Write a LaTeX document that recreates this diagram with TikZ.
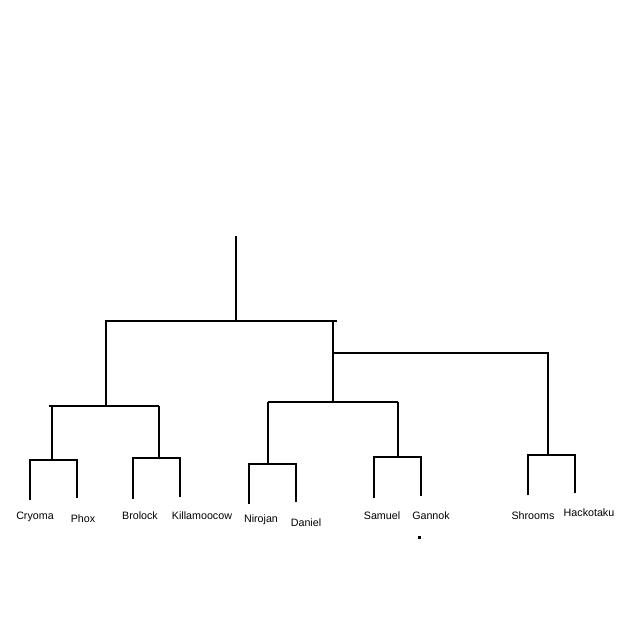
\documentclass[tikz,border=0pt]{standalone}
\usepackage{fontspec}
\setmainfont{Liberation Sans}
\begin{document}
\begin{tikzpicture}[x=1pt,y=-1pt,
  edge/.style={line width=2.7pt, line join=miter, black},
  lab/.style={anchor=base, inner sep=0pt, font=\fontsize{10.7}{12}\selectfont}]
\useasboundingbox (0,0) rectangle (640,634);
\fill[white] (0,0) rectangle (640,634);
% coordinates
\coordinate (rootTop) at (236,236);
\coordinate (rootJ) at (236,321);
\coordinate (topL) at (106,321);
\coordinate (topR) at (337,321);
\coordinate (rJ) at (333,321);
\coordinate (rMid) at (333,353);
\coordinate (rBot) at (333,402);
\coordinate (lBot) at (106,406);
\coordinate (lBarL) at (49,406);
\coordinate (lBarR) at (159,406);
\coordinate (aTop) at (52,406);
\coordinate (aJ) at (52,460);
\coordinate (bTop) at (159,406);
\coordinate (bJ) at (159,458);
\coordinate (mBarL) at (268,402);
\coordinate (mBarR) at (398,402);
\coordinate (cJ) at (268,464);
\coordinate (dJ) at (398,457);
\coordinate (sBarR) at (548,353);
\coordinate (eJ) at (548,455);
% leaf pairs
\coordinate (c1t) at (30,460);  \coordinate (c1b) at (30,500);
\coordinate (c2t) at (77,460);  \coordinate (c2b) at (77,498);
\coordinate (b1t) at (133,458); \coordinate (b1b) at (133,499);
\coordinate (b2t) at (180,458); \coordinate (b2b) at (180,497);
\coordinate (n1t) at (249,464); \coordinate (n1b) at (249,504);
\coordinate (n2t) at (296,464); \coordinate (n2b) at (296,502);
\coordinate (s1t) at (374,457); \coordinate (s1b) at (374,498);
\coordinate (s2t) at (421,457); \coordinate (s2b) at (421,496);
\coordinate (h1t) at (528,455); \coordinate (h1b) at (528,495);
\coordinate (h2t) at (575,455); \coordinate (h2b) at (575,493);
% edges
\draw[edge] (rootTop) -- (rootJ);
\draw[edge] (lBot) -- (topL) -- (topR);
\draw[edge] (rJ) -- (rBot);
\draw[edge] (lBarL) -- (lBarR);
\draw[edge] (aTop) -- (aJ);
\draw[edge] (bTop) -- (bJ);
\draw[edge] (c1b) -- (c1t) -- (c2t) -- (c2b);
\draw[edge] (b1b) -- (b1t) -- (b2t) -- (b2b);
\draw[edge] (mBarL) -- (mBarR);
\draw[edge] (mBarL) -- (cJ);
\draw[edge] (mBarR) -- (dJ);
\draw[edge] (n1b) -- (n1t) -- (n2t) -- (n2b);
\draw[edge] (s1b) -- (s1t) -- (s2t) -- (s2b);
\draw[edge] (rMid) -- (sBarR) -- (eJ);
\draw[edge] (h1b) -- (h1t) -- (h2t) -- (h2b);
% labels
\node[lab] (lCryoma) at (35,519) {Cryoma};
\node[lab] (lPhox) at (83,522) {Phox};
\node[lab] (lBrolock) at (140,519) {Brolock};
\node[lab] (lKilla) at (202,519) {Killamoocow};
\node[lab] (lNirojan) at (261,522) {Nirojan};
\node[lab] (lDaniel) at (306,526) {Daniel};
\node[lab] (lSamuel) at (382,519) {Samuel};
\node[lab] (lGannok) at (431,519) {Gannok};
\node[lab] (lShrooms) at (533,519) {Shrooms};
\node[lab] (lHacko) at (589,516) {Hackotaku};
\fill (418,536) rectangle (420.5,538.5);
\end{tikzpicture}
\end{document}
